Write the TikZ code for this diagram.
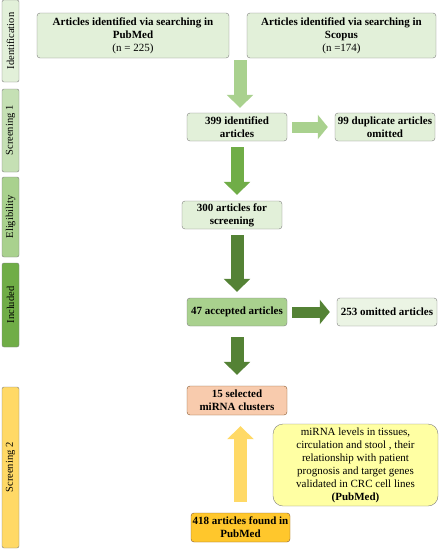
\documentclass[tikz,border=0pt]{standalone}
\usepackage{fontspec}
\setmainfont{Liberation Serif}
\usepackage{tikz}
\usetikzlibrary{arrows.meta}
\definecolor{boxline}{HTML}{7F7F7F}
\definecolor{pale}{HTML}{E2F0D9}
\definecolor{light}{HTML}{C5E0B4}
\definecolor{mid}{HTML}{A9D18E}
\definecolor{deep}{HTML}{70AD47}
\definecolor{dark}{HTML}{548235}
\definecolor{sand}{HTML}{FFD966}
\definecolor{salmon}{HTML}{F8CBAD}
\definecolor{lemon}{HTML}{FFFFA3}
\definecolor{gold}{HTML}{FFC72C}
\tikzset{
    box/.style={draw=boxline, fill=pale, rounded corners=3pt, align=center,
    	inner sep=1pt, font=\fontsize{11}{13}\selectfont\bfseries},
    stage/.style={draw=boxline, rounded corners=2pt, rotate=90, inner sep=0pt,
    	minimum height=17pt, font=\fontsize{10.5}{11}\selectfont},
    fat/.style={line width=13pt, -{Triangle[width=26pt,length=13pt]}},
    slim/.style={line width=11pt, -{Triangle[width=24pt,length=10pt]}}
}

\begin{document}
\begin{tikzpicture}
  \useasboundingbox (0pt, 0pt) rectangle (442pt, -550pt);
  % stages on the left
  \node (s_id) [stage, fill=pale, minimum width=82pt] at (10.5pt, -41pt) {Identification};
  \node (s_one) [stage, fill=light, minimum width=83pt] at (10.5pt, -130.5pt) {Screening 1};
  \node (s_el) [stage, fill=mid, minimum width=80pt] at (10.5pt, -217pt) {Eligibility};
  \node (s_in) [stage, fill=deep, minimum width=84pt] at (10.5pt, -305pt) {Included};
  \node (s_two) [stage, fill=sand, minimum width=161pt] at (10.5pt, -467.5pt) {Screening 2};

  \node (pubmed) [box, minimum width=192pt, minimum height=45pt] at (133pt, -35.5pt)
    {Articles identified via searching in\\PubMed\\\mdseries (n = 225)};
  \node (scopus) [box, minimum width=189pt, minimum height=45pt] at (341.5pt, -35.5pt)
    {Articles identified via searching in\\Scopus\\\mdseries (n =174)};
  \coordinate (join) at (240pt, -58pt);
  \node (n399) [box, minimum width=100pt, minimum height=28pt] at (237pt, -127pt) {399 identified\\articles};
  \node (n99) [box, minimum width=100pt, minimum height=28pt] at (385pt, -127pt) {99 duplicate articles\\omitted};
  \node (n300) [box, minimum width=100pt, minimum height=28pt] at (232pt, -215pt) {300 articles for\\screening};
  \node (n47) [box, fill=mid, minimum width=100pt, minimum height=28pt] at (237pt, -312pt) {47 accepted articles};
  \node (n253) [box, fill=pale!70!white, minimum width=100pt, minimum height=28pt] at (387pt, -312pt) {253 omitted articles};
  \node (n15) [box, fill=salmon, draw=brown!70!black, minimum width=100pt, minimum height=29pt] at (237pt, -400.5pt) {15 selected\\miRNA clusters};
  \node (topics) [box, fill=lemon, rounded corners=10pt, minimum width=165pt, minimum height=82pt,
    font=\fontsize{11}{13}\selectfont] at (355.5pt, -465pt)
    {miRNA levels in tissues,\\circulation and stool , their\\relationship with patient\\prognosis and target genes\\validated in CRC cell lines\\\textbf{(PubMed)}};
  \node (n418) [box, fill=gold, draw=brown!70!black, minimum width=99pt, minimum height=29pt] at (240.5pt, -527.5pt) {418 articles found in\\PubMed};

  \draw [fat, mid, shorten <=2pt, shorten >=5pt] (join) -- (join |- n399.north);
  \draw [slim, mid, shorten <=5pt, shorten >=7pt] (n399) -- (n99);
  \draw [fat, deep, shorten <=6pt, shorten >=6pt] (n399.south) -- (n399.south |- n300.north);
  \draw [fat, dark, shorten <=6pt, shorten >=6pt] (n47.north |- n300.south) -- (n47.north);
  \draw [slim, dark, shorten <=5pt, shorten >=7pt] (n47) -- (n253);
  \draw [fat, dark, shorten <=11pt, shorten >=11pt] (n47) -- (n15);
  \draw [fat, sand, shorten <=11pt, shorten >=11pt] (n418) -- (n418 |- n15.south);
\end{tikzpicture}
\end{document}
